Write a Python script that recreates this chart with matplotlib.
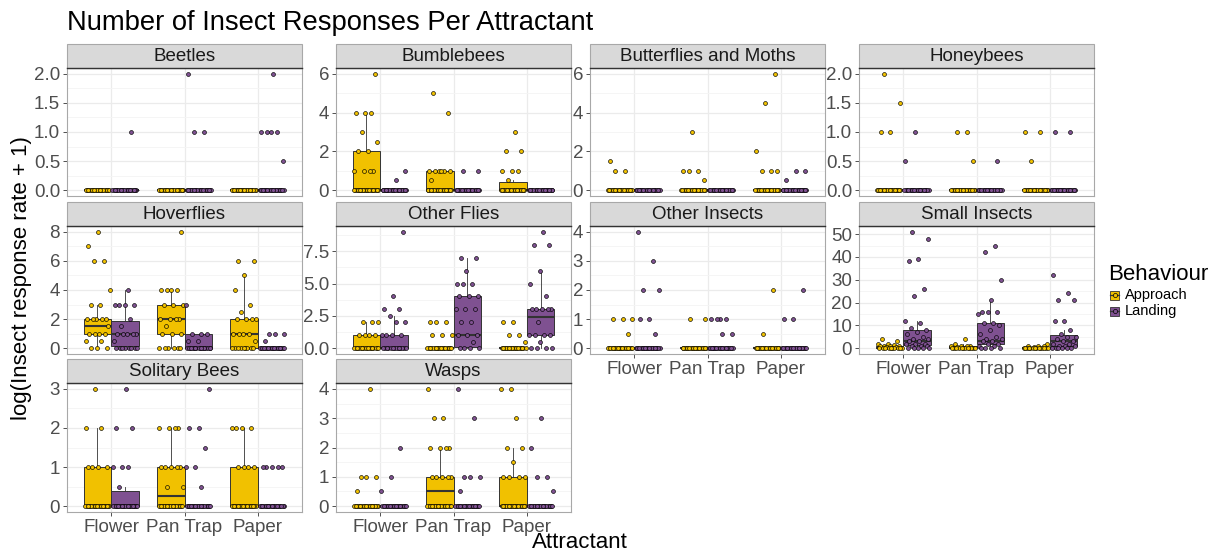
import numpy as np
import matplotlib
matplotlib.use("Agg")
import matplotlib.pyplot as plt
from matplotlib.patches import Rectangle
from matplotlib.lines import Line2D

plt.rcParams['font.family'] = ['Liberation Sans', 'DejaVu Sans']

# ---------------- data ----------------
attractants = ["Flower", "Pan Trap", "Paper"]
behaviours = ["Approach", "Landing"]
panel_names = ["Beetles", "Bumblebees", "Butterflies and Moths", "Honeybees",
               "Hoverflies", "Other Flies", "Other Insects", "Small Insects",
               "Solitary Bees", "Wasps"]

# non-zero observations per attractant (Flower, Pan Trap, Paper)
beetles_app = [[], [], []]
beetles_land = [[1], [2, 1, 1], [1, 1, 1, 1, 0.5, 2]]
bumblebees_app = [[6, 4, 4, 4, 3, 2.5, 2, 2, 1, 1, 1, 1], [5, 4, 1, 1, 1, 1, 1, 1, 0.5], [3, 2, 2, 1, 1, 1, 0.5]]
bumblebees_land = [[1, 0.5], [1, 1], []]
butterflies_app = [[1.5, 1, 1], [3, 1, 1, 1, 0.5], [6, 4.5, 2, 1, 1, 1]]
butterflies_land = [[], [], [1, 1, 0.5]]
honeybees_app = [[2, 1.5, 1, 1], [1, 1, 0.5], [1, 1, 0.5]]
honeybees_land = [[1, 0.5], [0.5], [1, 1]]
hoverflies_app = [[8, 7, 6, 6, 4, 3, 3, 2, 2, 2, 2, 2, 1.5, 1, 1, 1, 1, 0.5, 0.5],
                  [8, 4, 4, 4, 4, 3, 3, 3, 2, 2, 2, 2, 1.5, 1, 1, 1],
                  [6, 6, 5, 4, 3, 2.5, 2, 2, 2, 2, 1, 1, 1, 1, 0.5]]
hoverflies_land = [[4, 3, 3, 3, 3, 2, 1.5, 1, 1, 1, 1, 1, 0.5], [3, 1, 1, 1, 0.5, 0.5], [1, 1, 1, 0.5]]
otherflies_app = [[2, 2, 2, 1, 1, 1, 1], [2, 2, 2, 1, 1, 1], [2, 2, 1, 1, 0.5]]
otherflies_land = [[9, 4, 3, 3, 2.5, 2, 2, 1, 1, 1, 1],
                   [7, 7, 6, 5, 5, 5, 4, 4, 4, 3, 3, 3, 2, 2, 1, 1, 1, 0.5],
                   [9, 8, 8, 6, 5, 4, 3, 3, 3, 3, 3, 2, 1, 1, 1, 1, 0.5]]
otherinsects_app = [[1, 1, 1, 0.5], [1, 1], [2, 0.5]]
otherinsects_land = [[4, 3, 2, 2, 1, 1, 0.5], [1, 1, 1, 1, 0.5, 0.5], [2, 1, 1]]
smallinsects_app = [[4, 3, 2, 2, 1.5, 1, 1, 1, 1, 0.5, 0.5], [4, 2, 1, 1, 1, 1, 0.5], [2, 1, 1, 1, 0.5]]
smallinsects_land = [[51, 48, 39, 38, 26, 23, 12, 11, 9, 8, 7, 6, 5, 4, 4, 3, 3, 2, 2, 2, 1, 1, 1],
                     [45, 42, 30, 21, 16, 16, 16, 15, 11, 11, 10, 8, 6, 5, 4, 4, 3, 3, 2, 2, 1, 1],
                     [32, 24, 21, 21, 12, 12, 8, 6, 5, 5, 4, 3, 3, 2, 2, 1, 1, 1]]
solitary_app = [[3, 2, 2, 1, 1, 1, 1], [2, 2, 2, 2, 1, 1, 1, 1, 1, 0.5, 0.5], [2, 2, 2, 2, 1, 1, 1, 1]]
solitary_land = [[3, 2, 2, 1, 1, 1, 0.5], [3, 2, 2, 1.5, 1, 1, 0.5], [1, 1, 1, 1, 1]]
wasps_app = [[4, 1, 1, 1, 0.5], [4, 3, 3, 2, 2, 2, 2, 1, 1, 1, 1, 1], [4, 4, 3, 2, 2, 1.5, 1, 1, 1, 1]]
wasps_land = [[2, 1, 0.5], [4, 3, 1, 1, 1, 0.5], [3, 2, 1, 1, 0.5]]

# number of zero observations [approach, landing] per attractant
zeros_default = [[22, 22], [22, 22], [22, 22]]
hoverflies_zeros = [[3, 8], [6, 18], [9, 22]]
otherflies_zeros = [[18, 14], [20, 4], [20, 4]]
smallinsects_zeros = [[10, 5], [12, 4], [14, 6]]

# box statistics [q1, median, q3, whisker low, whisker high]
zero_box = [[0, 0, 0, 0, 0], [0, 0, 0, 0, 0], [0, 0, 0, 0, 0]]
bumblebees_box_app = [[0, 0, 2, 0, 4], [0, 0, 1, 0, 1], [0, 0, 0.4, 0, 0.5]]
hoverflies_box_app = [[1, 1.5, 2, 0, 3], [1, 2, 3, 0, 4], [0, 1, 2, 0, 5]]
hoverflies_box_land = [[0.15, 1, 1.9, 0, 4], [0, 0, 1, 0, 1], [0, 0, 0, 0, 0]]
otherflies_box_app = [[0, 0, 1, 0, 2], [0, 0, 0, 0, 0], [0, 0, 0, 0, 0]]
otherflies_box_land = [[0, 0, 1, 0, 2.5], [0.1, 1, 4, 0, 7], [1, 2.4, 3, 0, 6]]
smallinsects_box_app = [[0, 0, 1, 0, 2], [0, 0, 1, 0, 2], [0, 0, 0.5, 0, 1]]
smallinsects_box_land = [[1.2, 3.3, 8, 0, 12], [2, 3.3, 11, 0, 21], [1.1, 3, 5.7, 0, 8]]
solitary_box_app = [[0, 0, 1, 0, 2], [0, 0.25, 1, 0, 2], [0, 0, 1, 0, 2]]
solitary_box_land = [[0, 0, 0.38, 0, 0.5], [0, 0, 0, 0, 0], [0, 0, 0, 0, 0]]
wasps_box_app = [[0, 0, 0, 0, 0], [0, 0.5, 1, 0, 2], [0, 0, 1, 0, 2]]

# y tick labels per panel
ticks_0_2 = ["0.0", "0.5", "1.0", "1.5", "2.0"]
ticks_0_6 = ["0", "2", "4", "6"]
ticks_0_8 = ["0", "2", "4", "6", "8"]
ticks_flies = ["0.0", "2.5", "5.0", "7.5"]
ticks_0_4 = ["0", "1", "2", "3", "4"]
ticks_0_50 = ["0", "10", "20", "30", "40", "50"]
ticks_0_3 = ["0", "1", "2", "3"]

panels = [
    (beetles_app, beetles_land, zeros_default, zero_box, zero_box, ticks_0_2),
    (bumblebees_app, bumblebees_land, zeros_default, bumblebees_box_app, zero_box, ticks_0_6),
    (butterflies_app, butterflies_land, zeros_default, zero_box, zero_box, ticks_0_6),
    (honeybees_app, honeybees_land, zeros_default, zero_box, zero_box, ticks_0_2),
    (hoverflies_app, hoverflies_land, hoverflies_zeros, hoverflies_box_app, hoverflies_box_land, ticks_0_8),
    (otherflies_app, otherflies_land, otherflies_zeros, otherflies_box_app, otherflies_box_land, ticks_flies),
    (otherinsects_app, otherinsects_land, zeros_default, zero_box, zero_box, ticks_0_4),
    (smallinsects_app, smallinsects_land, smallinsects_zeros, smallinsects_box_app, smallinsects_box_land, ticks_0_50),
    (solitary_app, solitary_land, zeros_default, solitary_box_app, solitary_box_land, ticks_0_3),
    (wasps_app, wasps_land, zeros_default, wasps_box_app, zero_box, ticks_0_4),
]

# ---------------- style / layout ----------------
colors = ["#F1C100", "#7F5191"]
W, H = 1212, 553
col_x = [(67, 302), (336, 571), (590, 825), (859, 1094)]
row_y = [(44, 68, 196), (202, 226, 354), (359, 383, 512)]
xlab_panels = {6, 7, 8, 9}
golden = 0.6180339887
dodge = 0.1875
jit = 0.17


def fx(x):
    return x / W


def fy(y):
    return 1 - y / H


fig = plt.figure(figsize=(W / 100, H / 100), dpi=100)
fig.patch.set_facecolor("white")

gidx = 0
for idx, (app, land, zc, box_app, box_land, tlabels) in enumerate(panels):
    r, c = divmod(idx, 4)
    x0, x1 = col_x[c]
    s0, p0, p1 = row_y[r]
    ax = fig.add_axes([fx(x0), fy(p1), (x1 - x0) / W, (p1 - p0) / H])
    ax.set_facecolor("white")

    all_vals = [v for grp in app + land for v in grp]
    ymax = max(all_vals) if all_vals else 1
    ax.set_xlim(0.4, 3.6)
    ax.set_ylim(-0.05 * ymax, 1.05 * ymax)

    tvals = [float(t) for t in tlabels]
    ax.set_yticks(tvals)
    ax.set_yticklabels(tlabels)
    step = tvals[1] - tvals[0]
    minors = [t + step / 2 for t in [tvals[0] - step] + tvals if -0.05 * ymax < t + step / 2 < 1.05 * ymax]
    ax.set_yticks(minors, minor=True)
    ax.set_xticks([1, 2, 3])
    ax.grid(which="major", color="#EBEBEB", linewidth=0.9, zorder=0)
    ax.grid(which="minor", axis="y", color="#F4F4F4", linewidth=0.6, zorder=0)
    ax.set_axisbelow(True)

    ax.tick_params(axis="both", which="major", colors="#333333", length=3, width=0.6,
                   labelcolor="#4D4D4D", labelsize=13.5, pad=2)
    ax.tick_params(axis="y", which="minor", length=0)
    if idx in xlab_panels:
        ax.set_xticklabels(attractants)
    else:
        ax.set_xticklabels([])
        ax.tick_params(axis="x", length=0)

    for sp in ax.spines.values():
        sp.set_color("#A8A8A8")
        sp.set_linewidth(0.8)

    for b, (pts, boxes) in enumerate([(app, box_app), (land, box_land)]):
        off = -dodge if b == 0 else dodge
        stats = []
        positions = []
        for a in range(3):
            q1, med, q3, wl, wh = boxes[a]
            stats.append(dict(q1=q1, med=med, q3=q3, whislo=wl, whishi=wh, fliers=[]))
            positions.append(a + 1 + off)
        ax.bxp(stats, positions=positions, widths=0.375, patch_artist=True,
               showfliers=False, showcaps=False, manage_ticks=False,
               boxprops=dict(facecolor=colors[b], edgecolor="#333333", linewidth=0.7),
               medianprops=dict(color="#333333", linewidth=1.5),
               whiskerprops=dict(color="#333333", linewidth=0.6), zorder=2)
        for a in range(3):
            vals = list(pts[a]) + [0] * zc[a][b]
            phase = (gidx * 0.371) % 1.0
            gidx += 1
            xs = []
            for i in range(len(vals)):
                u = (phase + (i + 1) * golden) % 1.0
                xs.append(a + 1 + off + (u - 0.5) * 2 * jit)
            ax.scatter(xs, vals, s=8, facecolor=colors[b], edgecolor="black",
                       linewidths=0.45, zorder=3)

    # strip
    fig.add_artist(Rectangle((fx(x0), fy(p0)), (x1 - x0) / W, (p0 - s0) / H,
                             transform=fig.transFigure, facecolor="#D9D9D9",
                             edgecolor="#A8A8A8", linewidth=0.8))
    fig.add_artist(Line2D([fx(x0), fx(x1)], [fy(p0), fy(p0)], transform=fig.transFigure,
                          color="#333333", linewidth=1.0))
    fig.text(fx((x0 + x1) / 2), fy((s0 + p0) / 2 + 0.5), panel_names[idx], ha="center", va="center",
             fontsize=13.5, color="#1A1A1A")

# titles
fig.text(fx(67), fy(30), "Number of Insect Responses Per Attractant", fontsize=19.7,
         ha="left", va="baseline", color="black")
fig.text(fx(580), fy(543), "Attractant", fontsize=16, ha="center", va="center")
fig.text(fx(22), fy(278), "log(Insect response rate + 1)", fontsize=16, ha="center",
         va="center", rotation=90)

# legend
fig.text(fx(1108), fy(274), "Behaviour", fontsize=16, ha="left", va="center")
for b, (lab, yc) in enumerate(zip(behaviours, [295, 311])):
    fig.add_artist(Rectangle((fx(1110), fy(yc + 4.5)), 9 / W, 9 / H, transform=fig.transFigure,
                             facecolor=colors[b], edgecolor="#333333", linewidth=0.6))
    fig.add_artist(Line2D([fx(1110), fx(1119)], [fy(yc), fy(yc)], transform=fig.transFigure,
                          color="#333333", linewidth=0.9))
    fig.add_artist(Line2D([fx(1114.5)], [fy(yc)], transform=fig.transFigure, marker="o",
                          markersize=3, markerfacecolor=colors[b], markeredgecolor="black",
                          markeredgewidth=0.5, linestyle="none"))
    fig.text(fx(1125), fy(yc), lab, fontsize=10.5, ha="left", va="center")

fig.savefig("out.png", dpi=100, facecolor="white")
